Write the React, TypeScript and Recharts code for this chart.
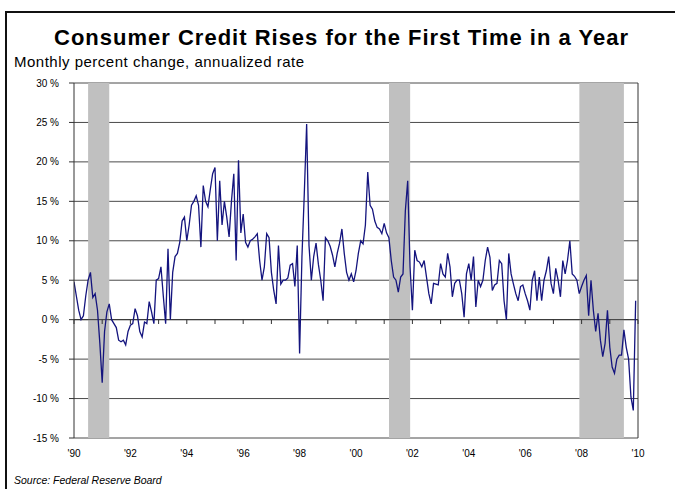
import React from 'react'
import { LineChart, Line, XAxis, YAxis, CartesianGrid, ReferenceArea, ReferenceLine } from 'recharts'

// monthly percent change, annualized rate
const y1990 = [4.8, 3, 1.2, 0, 0.5, 3, 5, 6, 2.8, 3.3, 1.2, -3]
const y1991 = [-8, -1.5, 1, 2, 0, -0.5, -1, -2.6, -2.8, -2.6, -3.2, -1.5]
const y1992 = [-0.7, -0.5, 1.4, 0.5, -1.5, -2.2, -0.3, -0.5, 2.3, 1, -0.5, 5]
const y1993 = [5.2, 6.7, 3, -0.5, 9, 0, 6, 8, 8.4, 9.8, 12.5, 13]
const y1994 = [10, 12, 14.5, 15, 15.7, 14.5, 9.2, 17, 15, 14.3, 16.5, 18.5]
const y1995 = [19.3, 10, 17.6, 12, 15, 13, 10.5, 15, 18.5, 7.5, 20.2, 11]
const y1996 = [13.4, 9.8, 9.2, 10, 10.2, 10.5, 10.9, 7.5, 5, 6.7, 10.9, 10.4]
const y1997 = [6, 3.7, 2, 9.4, 4.5, 5, 5, 5.3, 6.9, 7.1, 4.2, 9.4]
const y1998 = [-4.3, 8, 16, 24.8, 9.4, 5, 8, 9.7, 7, 5, 2.4, 10.4]
const y1999 = [10, 9.3, 8.2, 6.7, 8.4, 9.7, 11.5, 8.4, 6, 5, 5.8, 4.8]
const y2000 = [6.2, 8.4, 10, 9.6, 12, 18.7, 14.5, 14, 12.5, 11.7, 11.5, 10.9]
const y2001 = [12.2, 11, 10.4, 7.5, 5.4, 5, 3.5, 5.4, 5.8, 13.8, 17.6, 6.7]
const y2002 = [1.2, 8.8, 7.5, 7.3, 6.7, 7.5, 5.4, 3.3, 2, 4.6, 4.5, 4.4]
const y2003 = [7.1, 5.8, 5.4, 8.4, 6.7, 2.9, 4.6, 5, 5, 3.3, 0.3, 5.8]
const y2004 = [7.1, 5, 8, 1.6, 5, 4.2, 5, 7.5, 9.2, 7.9, 3.7, 4.4]
const y2005 = [4.6, 7.5, 7.1, 2.4, 0, 8.4, 5.8, 4.5, 3.3, 2.4, 4.2, 4.4]
const y2006 = [3.3, 2.4, 1.2, 5, 6.2, 2.4, 5.4, 2.4, 5, 6.2, 8, 4.6]
const y2007 = [3.3, 6.5, 5, 2.9, 7.5, 5.8, 7.5, 10, 5.8, 5.5, 5, 3.3]
const y2008 = [4.2, 5, 5.6, 0.5, 5, 1.2, -1.5, 0.8, -2.6, -4.7, -3, 1.2]
const y2009 = [-3.5, -6, -6.8, -5, -4.5, -4.5, -1.3, -3.5, -5, -9.8, -11.5, 2.4]

const recessionStart = [1990.5, 2001.17, 2007.92]
const recessionEnd = [1991.25, 2001.92, 2009.5]

const yTicks = [-15, -10, -5, 0, 5, 10, 15, 20, 25, 30]
const labelYears = [1990, 1992, 1994, 1996, 1998, 2000, 2002, 2004, 2006, 2008, 2010]
const markYears = [1990, 1991, 1992, 1993, 1994, 1995, 1996, 1997, 1998, 1999, 2000,
  2001, 2002, 2003, 2004, 2005, 2006, 2007, 2008, 2009, 2010]

const monthly = [y1990, y1991, y1992, y1993, y1994, y1995, y1996, y1997, y1998, y1999,
  y2000, y2001, y2002, y2003, y2004, y2005, y2006, y2007, y2008, y2009].flat()
const data = monthly.map((v, i) => ({ t: 1990 + i / 12, v }))

const font = '"Liberation Sans", Arial, sans-serif'

export default function App() {
  return (
    <div style={{ position: 'absolute', left: 0, top: 0, width: 675, height: 489, background: '#fff', fontFamily: font, overflow: 'hidden' }}>
      <div style={{ position: 'absolute', left: 5, top: 11, width: 700, height: 500, borderLeft: '2px solid #111', borderTop: '2px solid #111' }} />
      <div style={{ position: 'absolute', left: 0, width: 683, top: 25, textAlign: 'center', fontSize: 22, lineHeight: '26px', fontWeight: 'bold', letterSpacing: 1, color: '#000' }}>
        Consumer Credit Rises for the First Time in a Year
      </div>
      <div style={{ position: 'absolute', left: 14, top: 53, fontSize: 15, lineHeight: '18px', letterSpacing: 0.5, color: '#000' }}>
        Monthly percent change, annualized rate
      </div>
      <div style={{ position: 'absolute', left: 14, top: 474, fontSize: 10.5, lineHeight: '13px', fontStyle: 'italic', color: '#000' }}>
        Source: Federal Reserve Board
      </div>
      <LineChart width={675} height={489} data={data} margin={{ top: 83, right: 37, bottom: 21, left: 0 }}>
        <CartesianGrid vertical={false} stroke="#4a4a4a" strokeOpacity={1} />
        {recessionStart.map((s, i) => (
          <ReferenceArea key={'r' + i} x1={s} x2={recessionEnd[i]} fill="#c0c0c0" fillOpacity={1} stroke="none" />
        ))}
        <ReferenceLine y={0} stroke="#333" />
        {markYears.map((yr) => (
          <ReferenceLine key={'m' + yr} segment={[{ x: yr, y: 0 }, { x: yr, y: -0.55 }]} stroke="#333" />
        ))}
        <ReferenceLine x={2010} stroke="#333" />
        <XAxis
          type="number"
          dataKey="t"
          domain={[1990, 2010]}
          ticks={labelYears}
          tickFormatter={(v: number) => "'" + String(v).slice(2)}
          axisLine={false}
          tickLine={false}
          tickSize={0}
          tickMargin={12}
          height={30}
          allowDataOverflow
          tick={{ fontSize: 10, fill: '#000', fontFamily: font }}
        />
        <YAxis
          domain={[-15, 30]}
          ticks={yTicks}
          interval={0}
          width={74}
          tickFormatter={(v: number) => v + ' %'}
          axisLine={{ stroke: '#333' }}
          tickLine={{ stroke: '#333' }}
          tickSize={5}
          tickMargin={10}
          tick={{ fontSize: 10, fill: '#000', fontFamily: font }}
        />
        <Line type="linear" dataKey="v" stroke="#14147e" strokeWidth={1.3} dot={false} isAnimationActive={false} />
      </LineChart>
    </div>
  )
}
